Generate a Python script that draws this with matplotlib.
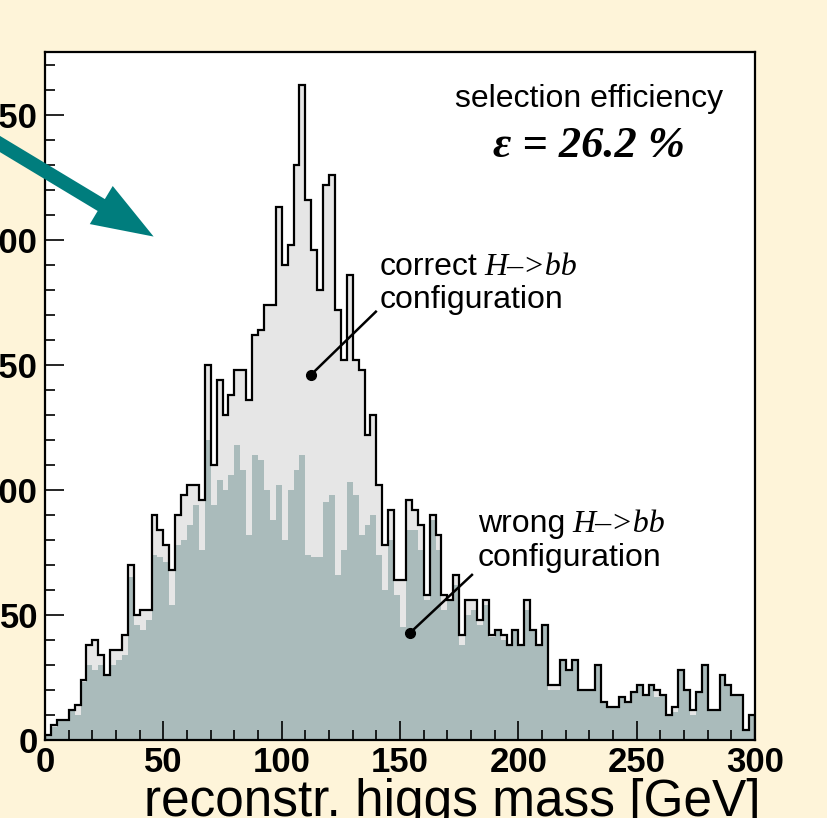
import numpy as np
import matplotlib
matplotlib.use("Agg")
import matplotlib.pyplot as plt
from matplotlib.patches import FancyArrowPatch

# histogram: 120 bins of 2.5 GeV from 0 to 300
mass_range = (0, 300)
n_bins = 120

# all selected events (correct + wrong pairing)
total_counts = [
    2, 6, 8, 8, 12, 14, 24, 38, 40, 34,
    26, 36, 36, 42, 70, 50, 52, 52, 90, 84,
    78, 68, 90, 98, 102, 102, 96, 150, 110, 144,
    130, 138, 148, 148, 136, 162, 164, 174, 174, 213,
    190, 198, 230, 262, 216, 196, 180, 222, 226, 172,
    152, 186, 152, 148, 122, 130, 102, 78, 92, 64,
    64, 96, 92, 86, 58, 90, 82, 58, 56, 66,
    42, 56, 56, 48, 56, 42, 44, 42, 38, 44,
    38, 56, 44, 38, 46, 22, 22, 32, 28, 32,
    20, 20, 20, 30, 15, 13, 13, 17, 15, 19,
    22, 18, 22, 20, 18, 10, 13, 28, 20, 12,
    19, 30, 12, 12, 26, 22, 18, 18, 4, 10,
]

# wrong H->bb configuration (dark fill)
wrong_counts = [
    2, 5, 8, 8, 12, 10, 23, 30, 28, 30,
    26, 30, 32, 34, 65, 46, 44, 48, 74, 73,
    71, 54, 78, 80, 86, 94, 76, 120, 94, 104,
    100, 106, 118, 108, 82, 114, 112, 100, 88, 102,
    80, 100, 108, 114, 74, 73, 73, 95, 98, 66,
    76, 103, 98, 82, 86, 90, 74, 60, 80, 58,
    45, 84, 84, 76, 56, 88, 76, 52, 56, 62,
    38, 50, 52, 46, 54, 41, 44, 40, 38, 44,
    38, 52, 44, 38, 46, 20, 20, 32, 28, 32,
    20, 20, 20, 30, 15, 13, 13, 17, 15, 19,
    22, 18, 22, 17, 18, 10, 11, 28, 20, 10,
    19, 30, 12, 12, 26, 22, 18, 18, 4, 10,
]

x_ticks = [0, 50, 100, 150, 200, 250, 300]
y_ticks = [0, 50, 100, 150, 200, 250]

bg = "#FEF4D9"
light_gray = "#E6E6E6"
dark_fill = "#AABBBB"
teal = "#007D7D"

sans = ["Liberation Sans", "DejaVu Sans"]
serif = ["Liberation Serif", "DejaVu Serif"]

edges = np.linspace(mass_range[0], mass_range[1], n_bins + 1)
total = np.array(total_counts, dtype=float)
wrong = np.minimum(np.array(wrong_counts, dtype=float), total)

fig = plt.figure(figsize=(8.27, 8.18), dpi=100, facecolor=bg)
ax = fig.add_axes([45 / 827, 1 - 740 / 818, 710 / 827, 688 / 818])
ax.set_facecolor("white")

ax.stairs(total, edges, fill=True, color=light_gray, lw=0)
ax.stairs(wrong, edges, fill=True, color=dark_fill, lw=0)
ax.stairs(total, edges, color="black", lw=1.6)

ax.set_xlim(0, 300)
ax.set_ylim(0, 275)

tick_font = {"family": sans, "weight": "bold", "size": 25}
ax.set_xticks(x_ticks)
ax.set_yticks(y_ticks)
ax.set_xticks(np.arange(0, 301, 10), minor=True)
ax.set_yticks(np.arange(0, 276, 10), minor=True)
ax.set_xticklabels([str(t) for t in x_ticks], fontdict=tick_font)
ax.set_yticklabels([str(t) for t in y_ticks], fontdict=tick_font)
ax.tick_params(which="major", direction="in", length=14, width=1.2, pad=4)
ax.tick_params(which="minor", direction="in", length=7, width=1.2)
ax.tick_params(axis="y", pad=5)
for sp in ax.spines.values():
    sp.set_linewidth(1.6)

# x axis title, cut by the slide edge
fig.text(760 / 827, 2 / 818, "reconstr. higgs mass [GeV]", ha="right",
         va="baseline", fontsize=37, family=sans)

ax.text(230, 253, "selection efficiency", ha="center", va="baseline",
        fontsize=23, family=sans)
ax.text(230, 233, "\u03b5 = 26.2 %", ha="center", va="baseline",
        fontsize=32, family=serif, weight="bold", style="italic")

# labels for the two components; the italic part follows the plain word
for x0, y0, word in [(141.5, 186, "correct"), (183, 83, "wrong")]:
    t = ax.text(x0, y0, word, ha="left", va="baseline", fontsize=23, family=sans)
    ax.annotate("H\u2013>bb", xy=(1, 0), xycoords=t, xytext=(5, 0),
                textcoords="offset points", ha="left", va="bottom",
                fontsize=23, family=serif, style="italic")
    ax.text(x0, y0 - 13.5, "configuration", ha="left", va="baseline",
            fontsize=23, family=sans)

ax.plot([112.4, 139.8], [146, 171.2], color="black", lw=1.8)
ax.plot([112.4], [146], "o", color="black", ms=7)
ax.plot([154.2, 180.4], [42.8, 66], color="black", lw=1.8)
ax.plot([154.2], [42.8], "o", color="black", ms=7)

# teal pointer coming in from the left of the slide
arrow = FancyArrowPatch((-20, 818 - 132), (156, 818 - 238), transform=None,
                        arrowstyle="simple,head_length=44,head_width=32,tail_width=10",
                        mutation_scale=1, color=teal, lw=0, clip_on=False)
fig.patches.append(arrow)

fig.savefig("out.png", dpi=100, facecolor=bg)
